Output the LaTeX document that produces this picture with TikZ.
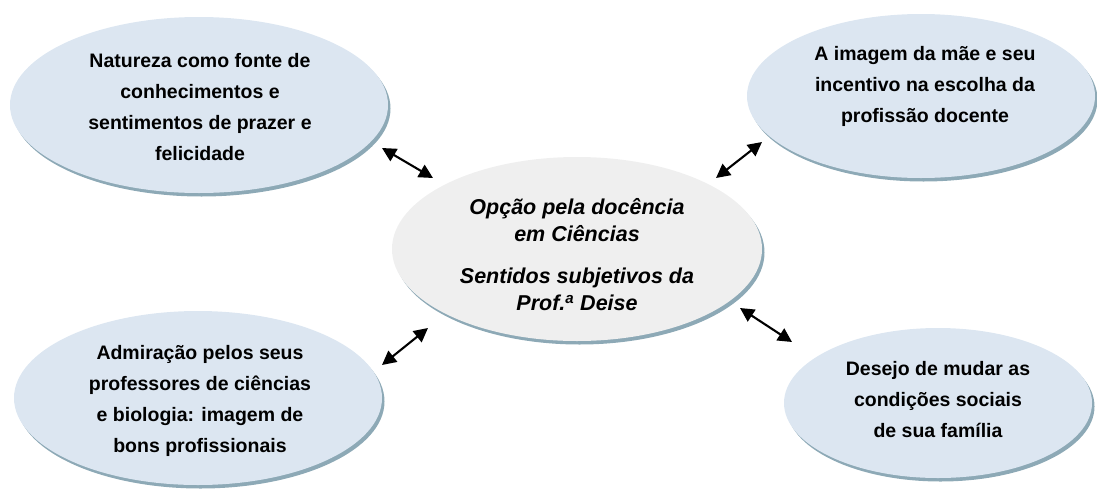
\documentclass[tikz,border=0pt]{standalone}
\usepackage{fontspec}
\setmainfont{Liberation Sans}
\usetikzlibrary{shapes.geometric,shadows,arrows.meta}
\definecolor{bluefill}{HTML}{DCE6F1}
\definecolor{grayfill}{HTML}{EFEFEF}
\definecolor{shadowcol}{HTML}{8DA9B6}
\tikzset{
  blob/.style={ellipse, inner sep=0pt, fill=bluefill,
    drop shadow={shadow xshift=2.5pt, shadow yshift=-3.5pt, fill=shadowcol, opacity=1}},
  hub/.style={blob, fill=grayfill},
  txt/.style={align=center, font=\fontsize{19.5}{31}\selectfont\bfseries},
  hubtxt/.style={align=center, font=\fontsize{21.5}{27}\selectfont\bfseries\itshape},
  link/.style={line width=2.1pt, {Triangle[length=14pt,width=14pt]}-{Triangle[length=14pt,width=14pt]}}
}
\begin{document}
\begin{tikzpicture}[x=1pt,y=-1pt]
\useasboundingbox (0,0) rectangle (1097,490);
% ellipses
\node[blob, minimum width=378pt, minimum height=176pt] (tl) at (199,105) {};
\node[blob, minimum width=348pt, minimum height=164pt] (tr) at (921,96) {};
\node[blob, minimum width=368pt, minimum height=174pt] (bl) at (198,398) {};
\node[blob, minimum width=308pt, minimum height=150pt] (br) at (938,403) {};
\node[hub, minimum width=370pt, minimum height=184pt] (hub) at (577,249) {};
% texts
\node[txt] (tltext) at (200,107) {Natureza como fonte de\\conhecimentos e\\sentimentos de prazer e\\felicidade};
\node[txt] (trtext) at (925,86) {A imagem da mãe e seu\\incentivo na escolha da\\profissão docente};
\node[txt] (bltext) at (200,401) {Admiração pelos seus\\professores de ciências\\e biologia: imagem de\\bons profissionais};
\node[txt] (brtext) at (938,400) {Desejo de mudar as\\condições sociais\\de sua família};
\node[hubtxt] (hubtext) at (577,255) {Opção pela docência\\em Ciências\\[15pt]Sentidos subjetivos da\\Prof.\textsuperscript{a} Deise};
% arrow ends
\coordinate (a1) at (382,148); \coordinate (b1) at (433,178);
\coordinate (a2) at (762,142); \coordinate (b2) at (716,178);
\coordinate (a3) at (428,328); \coordinate (b3) at (382,365);
\coordinate (a4) at (740,308); \coordinate (b4) at (792,342);
\draw[link] (a1) -- (b1);
\draw[link] (a2) -- (b2);
\draw[link] (a3) -- (b3);
\draw[link] (a4) -- (b4);
\end{tikzpicture}
\end{document}
